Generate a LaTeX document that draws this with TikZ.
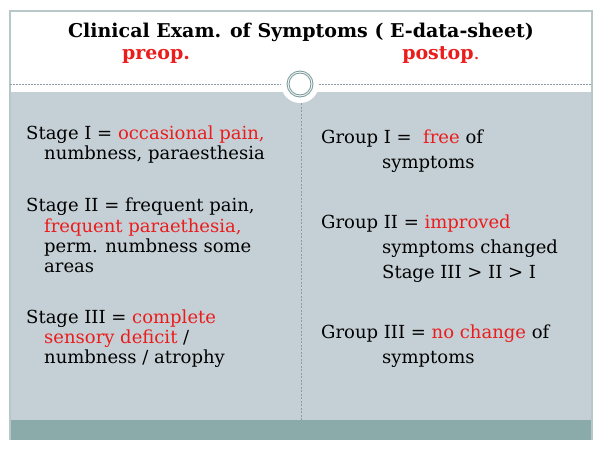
\documentclass[tikz,border=0pt]{standalone}
\usepackage{fontspec}
\setmainfont{DejaVu Serif}
\definecolor{panel}{RGB}{197,208,214}
\definecolor{bar}{RGB}{139,170,170}
\definecolor{framec}{RGB}{184,200,200}
\definecolor{ring}{RGB}{125,155,155}
\definecolor{dashc}{RGB}{140,155,165}
\definecolor{txtred}{RGB}{235,28,28}
\newcommand\rd[1]{\textcolor{txtred}{#1}}
\begin{document}
\begin{tikzpicture}[x=1pt,y=-1pt,
  txt/.style={anchor=base west, inner sep=0pt, font=\fontsize{18}{20}\selectfont},
  ttl/.style={anchor=base, inner sep=0pt, font=\fontsize{19}{20}\selectfont\bfseries}]
\useasboundingbox (0,0) rectangle (600,450);
\fill[white] (0,0) rectangle (600,450);
\fill[panel] (10,92) rectangle (592,420);
\fill[bar] (10,420) rectangle (592,440);
\draw[framec, line width=1.5pt] (10,440) -- (10,11) -- (592,11) -- (592,440);
\draw[dashc, dash pattern=on 2pt off 1pt, line width=0.6pt] (10,84) -- (592,84);
\fill[white] (300,84) circle (19);
\draw[ring, line width=0.9pt] (300,84) circle (13);
\draw[ring, line width=0.9pt] (300,84) circle (11);
\draw[dashc, dash pattern=on 2pt off 1.5pt, line width=0.6pt] (301,103) -- (301,420);
% title
\node[ttl] (title) at (301,37) {Clinical Exam. of Symptoms ( E-data-sheet)};
\node[ttl, txtred] (preop) at (156,59) {preop.};
\node[ttl, txtred] (postop) at (441,59) {postop\textmd{.}};
% left column
\node[txt] (s1a) at (26,139) {Stage I = \rd{occasional pain,}};
\node[txt] (s1b) at (44,159) {numbness, paraesthesia};
\node[txt] (s2a) at (26,211) {Stage II = frequent pain,};
\node[txt, txtred] (s2b) at (44,232) {frequent paraethesia,};
\node[txt] (s2c) at (44,252) {perm. numbness some};
\node[txt] (s2d) at (44,272) {areas};
\node[txt] (s3a) at (26,323) {Stage III = \rd{complete}};
\node[txt] (s3b) at (44,343) {\rd{sensory deficit} /};
\node[txt] (s3c) at (44,363) {numbness / atrophy};
% right column
\node[txt] (g1a) at (321,143) {Group I = \ \rd{free} of};
\node[txt] (g1b) at (382,168) {symptoms};
\node[txt] (g2a) at (321,228) {Group II = \rd{improved}};
\node[txt] (g2b) at (382,253) {symptoms changed};
\node[txt] (g2c) at (382,278) {Stage III > II > I};
\node[txt] (g3a) at (321,338) {Group III = \rd{no change} of};
\node[txt] (g3b) at (382,363) {symptoms};
\end{tikzpicture}
\end{document}
